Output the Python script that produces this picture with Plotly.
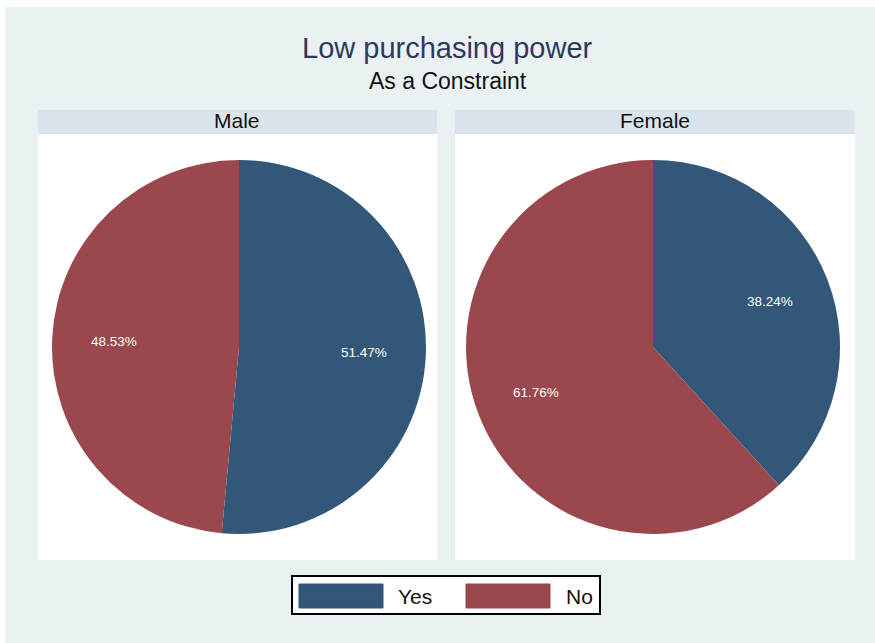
import math
import plotly.graph_objects as go

W, H = 875, 643
OFF = 0

title = "Low purchasing power"
subtitle = "As a Constraint"
groups = ["Male", "Female"]
categories = ["Yes", "No"]
male_values = [51.47, 48.53]
female_values = [38.24, 61.76]
colors = ["#335779", "#9A474D"]

BG = "#EAF1F3"
HEADER = "#D9E5EB"
FONT = "Liberation Sans, Arial, sans-serif"


def px(x):
    return (x - OFF) / W


def py(y):
    return 1 - (y - OFF) / H


fig = go.Figure()

panels = [
    dict(panel=(38, 437), pie=(52, 426)),
    dict(panel=(455, 855), pie=(466, 840)),
]
pie_top, pie_bot = 160, 534

annotations = []
for g, vals, p in zip(groups, [male_values, female_values], panels):
    fig.add_trace(go.Pie(
        labels=categories,
        values=vals,
        sort=False,
        direction="clockwise",
        rotation=0,
        marker=dict(colors=colors, line=dict(color=colors, width=0)),
        textinfo="none",
        domain=dict(x=[px(p["pie"][0]), px(p["pie"][1])], y=[py(pie_bot), py(pie_top)]),
        showlegend=False,
        hoverinfo="label+value",
        name=g,
    ))
    # percentage labels at 2/3 radius along each slice's mid-angle (derived from the data)
    cx = (p["pie"][0] + p["pie"][1]) / 2
    cy = (pie_top + pie_bot) / 2
    R = (pie_bot - pie_top) / 2
    total = sum(vals)
    cum = 0.0
    for v in vals:
        mid = (cum + v / 2) / total * 2 * math.pi
        cum += v
        lx = cx + 0.67 * R * math.sin(mid)
        ly = cy - 0.67 * R * math.cos(mid)
        annotations.append(dict(text=f"{v:.2f}%", xref="paper", yref="paper",
                                x=px(lx), y=py(ly), showarrow=False,
                                xanchor="center", yanchor="middle",
                                font=dict(size=13.5, color="white", family=FONT)))

shapes = []
# chart background (white page border at top/left)
shapes.append(dict(type="rect", xref="paper", yref="paper", x0=px(5), x1=1, y0=0, y1=py(7),
                   fillcolor=BG, line=dict(width=0), layer="below"))
for g, p in zip(groups, panels):
    x0, x1 = p["panel"]
    shapes.append(dict(type="rect", xref="paper", yref="paper", x0=px(x0), x1=px(x1),
                       y0=py(134), y1=py(110), fillcolor=HEADER, line=dict(width=0), layer="below"))
    shapes.append(dict(type="rect", xref="paper", yref="paper", x0=px(x0), x1=px(x1),
                       y0=py(560), y1=py(134), fillcolor="white", line=dict(width=0), layer="below"))
    annotations.append(dict(text=g, xref="paper", yref="paper", x=px((x0 + x1) / 2), y=py(121),
                            showarrow=False, xanchor="center", yanchor="middle",
                            font=dict(size=21, color="#111111", family=FONT)))

# legend box
shapes.append(dict(type="rect", xref="paper", yref="paper", x0=px(292), x1=px(600),
                   y0=py(614), y1=py(576), fillcolor="white", line=dict(color="black", width=2)))
legend_items = [(299, 383, 396), (466, 550, 564)]
for cat, col, (s0, s1, tx) in zip(categories, colors, legend_items):
    shapes.append(dict(type="rect", xref="paper", yref="paper", x0=px(s0), x1=px(s1),
                       y0=py(608), y1=py(584), fillcolor=col, line=dict(color=col, width=1)))
    annotations.append(dict(text=cat, xref="paper", yref="paper", x=px(tx), y=py(596),
                            showarrow=False, xanchor="left", yanchor="middle",
                            font=dict(size=21, color="#111111", family=FONT)))

annotations.append(dict(text=title, xref="paper", yref="paper", x=px(447), y=py(48),
                        showarrow=False, xanchor="center", yanchor="middle",
                        font=dict(size=29, color="#2C3A5C", family=FONT)))
annotations.append(dict(text=subtitle, xref="paper", yref="paper", x=px(448), y=py(81),
                        showarrow=False, xanchor="center", yanchor="middle",
                        font=dict(size=23, color="#111111", family=FONT)))

fig.update_layout(
    width=W, height=H,
    margin=dict(l=0, r=0, t=0, b=0),
    paper_bgcolor="white",
    plot_bgcolor="white",
    shapes=shapes,
    annotations=annotations,
    showlegend=False,
)

fig.write_html("out.html",
               config={"displayModeBar": False},
               post_script="document.body.style.margin='0';"
                           "document.documentElement.style.overflow='hidden';"
                           "document.body.style.overflow='hidden';")
